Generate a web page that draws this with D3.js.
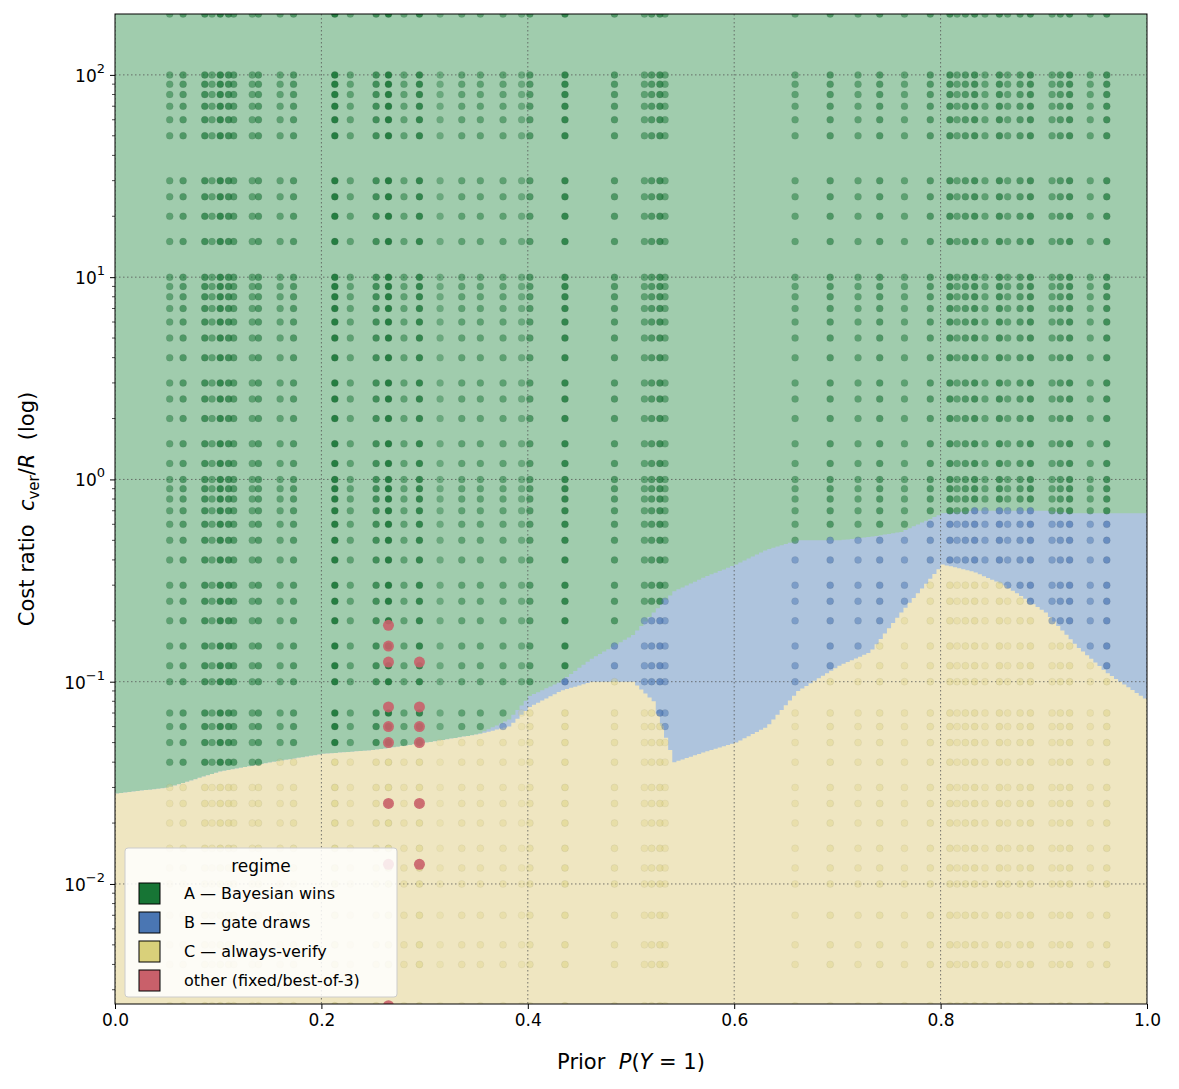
<!DOCTYPE html>
<html><head><meta charset="utf-8">
<script src="https://cdn.jsdelivr.net/npm/d3@7"></script>
<style>body{margin:0;background:#fff;font-family:"DejaVu Sans",sans-serif}</style>
</head><body><svg id="chart" width="1179" height="1089"></svg>
<script>
// columns of sampled priors
var priors = [0.053,0.066,0.087,0.094,0.102,0.110,0.115,0.133,0.139,0.160,0.173,0.213,0.228,0.253,0.265,0.280,0.295,0.315,0.336,0.354,0.376,0.394,0.402,0.436,0.484,0.513,0.520,0.528,0.533,0.659,0.693,0.720,0.741,0.765,0.790,0.809,0.816,0.824,0.833,0.843,0.857,0.865,0.877,0.887,0.908,0.916,0.925,0.945,0.961];
var colAlpha = [0.5,0.6,0.7,0.5,0.8,0.7,0.6,0.5,0.6,0.5,0.6,0.9,0.5,0.7,0.9,0.5,0.8,0.4,0.5,0.5,0.5,0.4,0.6,0.8,0.6,0.5,0.6,0.7,0.5,0.5,0.6,0.5,0.6,0.5,0.6,0.7,0.5,0.6,0.7,0.5,0.7,0.5,0.6,0.7,0.5,0.6,0.7,0.5,0.7];
// cost ratios sampled
var costs = [200,100,90,80,70,60,50,30,25,20,15,
  10,9,8,7,6,5,4,3,2.5,2,1.5,1.2,
  1,0.9,0.8,0.7,0.6,0.5,0.4,0.3,0.25,0.2,0.15,0.12,
  0.1,0.07,0.06,0.05,0.04,0.03,0.025,0.02,0.015,0.012,
  0.01,0.007,0.005,0.004,0.0025];
// regime boundaries: yellow (C) below yTop, blue (B) below bTop
var bndX = [0,0.05,0.1,0.15,0.2,0.25,0.3,0.35,0.38,0.4,0.43,0.46,0.5,0.52,0.54,0.57,0.6,0.63,0.66,0.7,0.73,0.76,0.8,0.83,0.86,0.9,0.93,0.96,1.0];
var yTop = [0.028,0.03,0.036,0.04,0.044,0.046,0.05,0.055,0.06,0.075,0.09,0.1,0.1,0.08,0.04,0.045,0.05,0.06,0.09,0.12,0.14,0.22,0.38,0.35,0.3,0.22,0.15,0.11,0.08];
var bTop = [0.028,0.03,0.036,0.04,0.044,0.046,0.05,0.055,0.065,0.085,0.1,0.13,0.17,0.22,0.28,0.33,0.38,0.45,0.5,0.5,0.52,0.55,0.68,0.7,0.7,0.7,0.68,0.68,0.68];
// "other" regime points
var redP = [0.265,0.265,0.265,0.265,0.265,0.265,0.265,0.265,0.265,0.295,0.295,0.295,0.295,0.295,0.295];
var redC = [0.19,0.15,0.125,0.075,0.06,0.05,0.025,0.0125,0.0025,0.125,0.075,0.06,0.05,0.025,0.0125];
var legendLabels = ["A — Bayesian wins","B — gate draws","C — always-verify","other (fixed/best-of-3)"];
var legendColors = ["#177535","#4a76b3","#d9d07a","#c9606a"];

var svg = d3.select("#chart");
var L=115,R=1147,T=14,B=1004;
var x = d3.scaleLinear().domain([0,1]).range([L,R]);
var y = d3.scaleLog().domain([0.00255,200]).range([B,T]);
svg.append("clipPath").attr("id","c").append("rect").attr("x",L).attr("y",T).attr("width",R-L).attr("height",B-T);
var g = svg.append("g").attr("clip-path","url(#c)");
g.append("rect").attr("x",L).attr("y",T).attr("width",R-L).attr("height",B-T).attr("fill","#a0ccad");
function interp(arr,p){var i=d3.bisectRight(bndX,p)-1;i=Math.max(0,Math.min(i,bndX.length-2));var t=(p-bndX[i])/(bndX[i+1]-bndX[i]);return Math.exp(Math.log(arr[i])*(1-t)+Math.log(arr[i+1])*t);}
var fine = d3.range(0,1.0001,0.004);
var area = function(arr){return d3.area().curve(d3.curveStepAfter).x(function(p){return x(p);}).y0(B).y1(function(p){return y(interp(arr,p));})(fine);};
g.append("path").attr("d",area(bTop)).attr("fill","#aec4dd");
g.append("path").attr("d",area(yTop)).attr("fill","#efe6c1");

// grid
var xt=[0,0.2,0.4,0.6,0.8,1.0], yt=[0.01,0.1,1,10,100];
g.selectAll(".gx").data(xt).enter().append("line").attr("x1",x).attr("x2",x).attr("y1",T).attr("y2",B).attr("stroke","#555").attr("stroke-dasharray","1.5,2.5").attr("stroke-width",0.8);
g.selectAll(".gy").data(yt).enter().append("line").attr("y1",y).attr("y2",y).attr("x1",L).attr("x2",R).attr("stroke","#555").attr("stroke-dasharray","1.5,2.5").attr("stroke-width",0.8);

var pts=[];
priors.forEach(function(p,i){costs.forEach(function(c){
  var col = c>interp(bTop,p)?0:(c>interp(yTop,p)?1:2);
  pts.push({p:p,c:c,col:col,a:colAlpha[i]*(col==2?0.6:1)});
});});
g.selectAll(".pt").data(pts).enter().append("circle").attr("cx",function(d){return x(d.p);}).attr("cy",function(d){return y(d.c);}).attr("r",3.5)
 .attr("fill",function(d){return legendColors[d.col];}).attr("fill-opacity",function(d){return d.a;})
 .attr("stroke","#444").attr("stroke-opacity",function(d){return d.a*0.35;}).attr("stroke-width",0.5);
g.selectAll(".rp").data(redP).enter().append("circle").attr("cx",function(d){return x(d);}).attr("cy",function(d,i){return y(redC[i]);}).attr("r",5.5).attr("fill","#c9606a").attr("fill-opacity",0.9);

svg.append("rect").attr("x",L).attr("y",T).attr("width",R-L).attr("height",B-T).attr("fill","none").attr("stroke","#000").attr("stroke-width",1);
// axes
var xa=svg.append("g").attr("transform","translate(0,"+B+")").call(d3.axisBottom(x).tickValues(xt).tickFormat(d3.format(".1f")).tickSize(5));
xa.select(".domain").remove();
xa.selectAll("text").attr("font-size",17).attr("font-family","DejaVu Sans").attr("dy","0.85em").attr("fill","#000");
var ya=svg.append("g").attr("transform","translate("+L+",0)").call(d3.axisLeft(y).tickValues(yt).tickFormat("").tickSize(5));
ya.select(".domain").remove();
var minor=[];[0.001,0.01,0.1,1,10,100].forEach(function(d){for(var k=2;k<10;k++){var v=d*k;if(v>0.00255&&v<200)minor.push(v);}});
svg.selectAll(".mt").data(minor).enter().append("line").attr("x1",L-3).attr("x2",L).attr("y1",y).attr("y2",y).attr("stroke","#000").attr("stroke-width",0.7);
yt.forEach(function(v){var e=Math.round(Math.log10(v));var t=svg.append("text").attr("x",L-10).attr("y",y(v)+7).attr("text-anchor","end").attr("font-size",17);
 t.append("tspan").text("10");t.append("tspan").attr("dy",-9).attr("font-size",13).text(e<0?"−"+(-e):e);});
var xl=svg.append("text").attr("x",(L+R)/2).attr("y",1069).attr("text-anchor","middle").attr("font-size",21).attr("xml:space","preserve");
xl.append("tspan").text("Prior  ");xl.append("tspan").attr("font-style","italic").text("P");xl.append("tspan").text("(");xl.append("tspan").attr("font-style","italic").text("Y");xl.append("tspan").text(" = 1)");
var yl=svg.append("text").attr("transform","translate(34,"+((T+B)/2)+") rotate(-90)").attr("text-anchor","middle").attr("font-size",21).attr("xml:space","preserve");
yl.append("tspan").text("Cost ratio  ");yl.append("tspan").attr("font-style","italic").text("c");yl.append("tspan").attr("font-size",15).attr("dy",5).text("ver");yl.append("tspan").attr("dy",-5).text("/");yl.append("tspan").attr("font-style","italic").text("R");yl.append("tspan").text("  (log)");
// legend
var lg=svg.append("g").attr("transform","translate(125,848)");
lg.append("rect").attr("width",272).attr("height",149).attr("rx",3).attr("fill","#fff").attr("fill-opacity",0.85).attr("stroke","#ccc");
lg.append("text").attr("x",136).attr("y",24).attr("text-anchor","middle").attr("font-size",17).text("regime");
legendLabels.forEach(function(s,i){
 lg.append("rect").attr("x",14).attr("y",35+i*29).attr("width",21).attr("height",21).attr("fill",legendColors[i]).attr("stroke","#000");
 lg.append("text").attr("x",59).attr("y",51+i*29).attr("font-size",16).text(s);
});
</script></body></html>
